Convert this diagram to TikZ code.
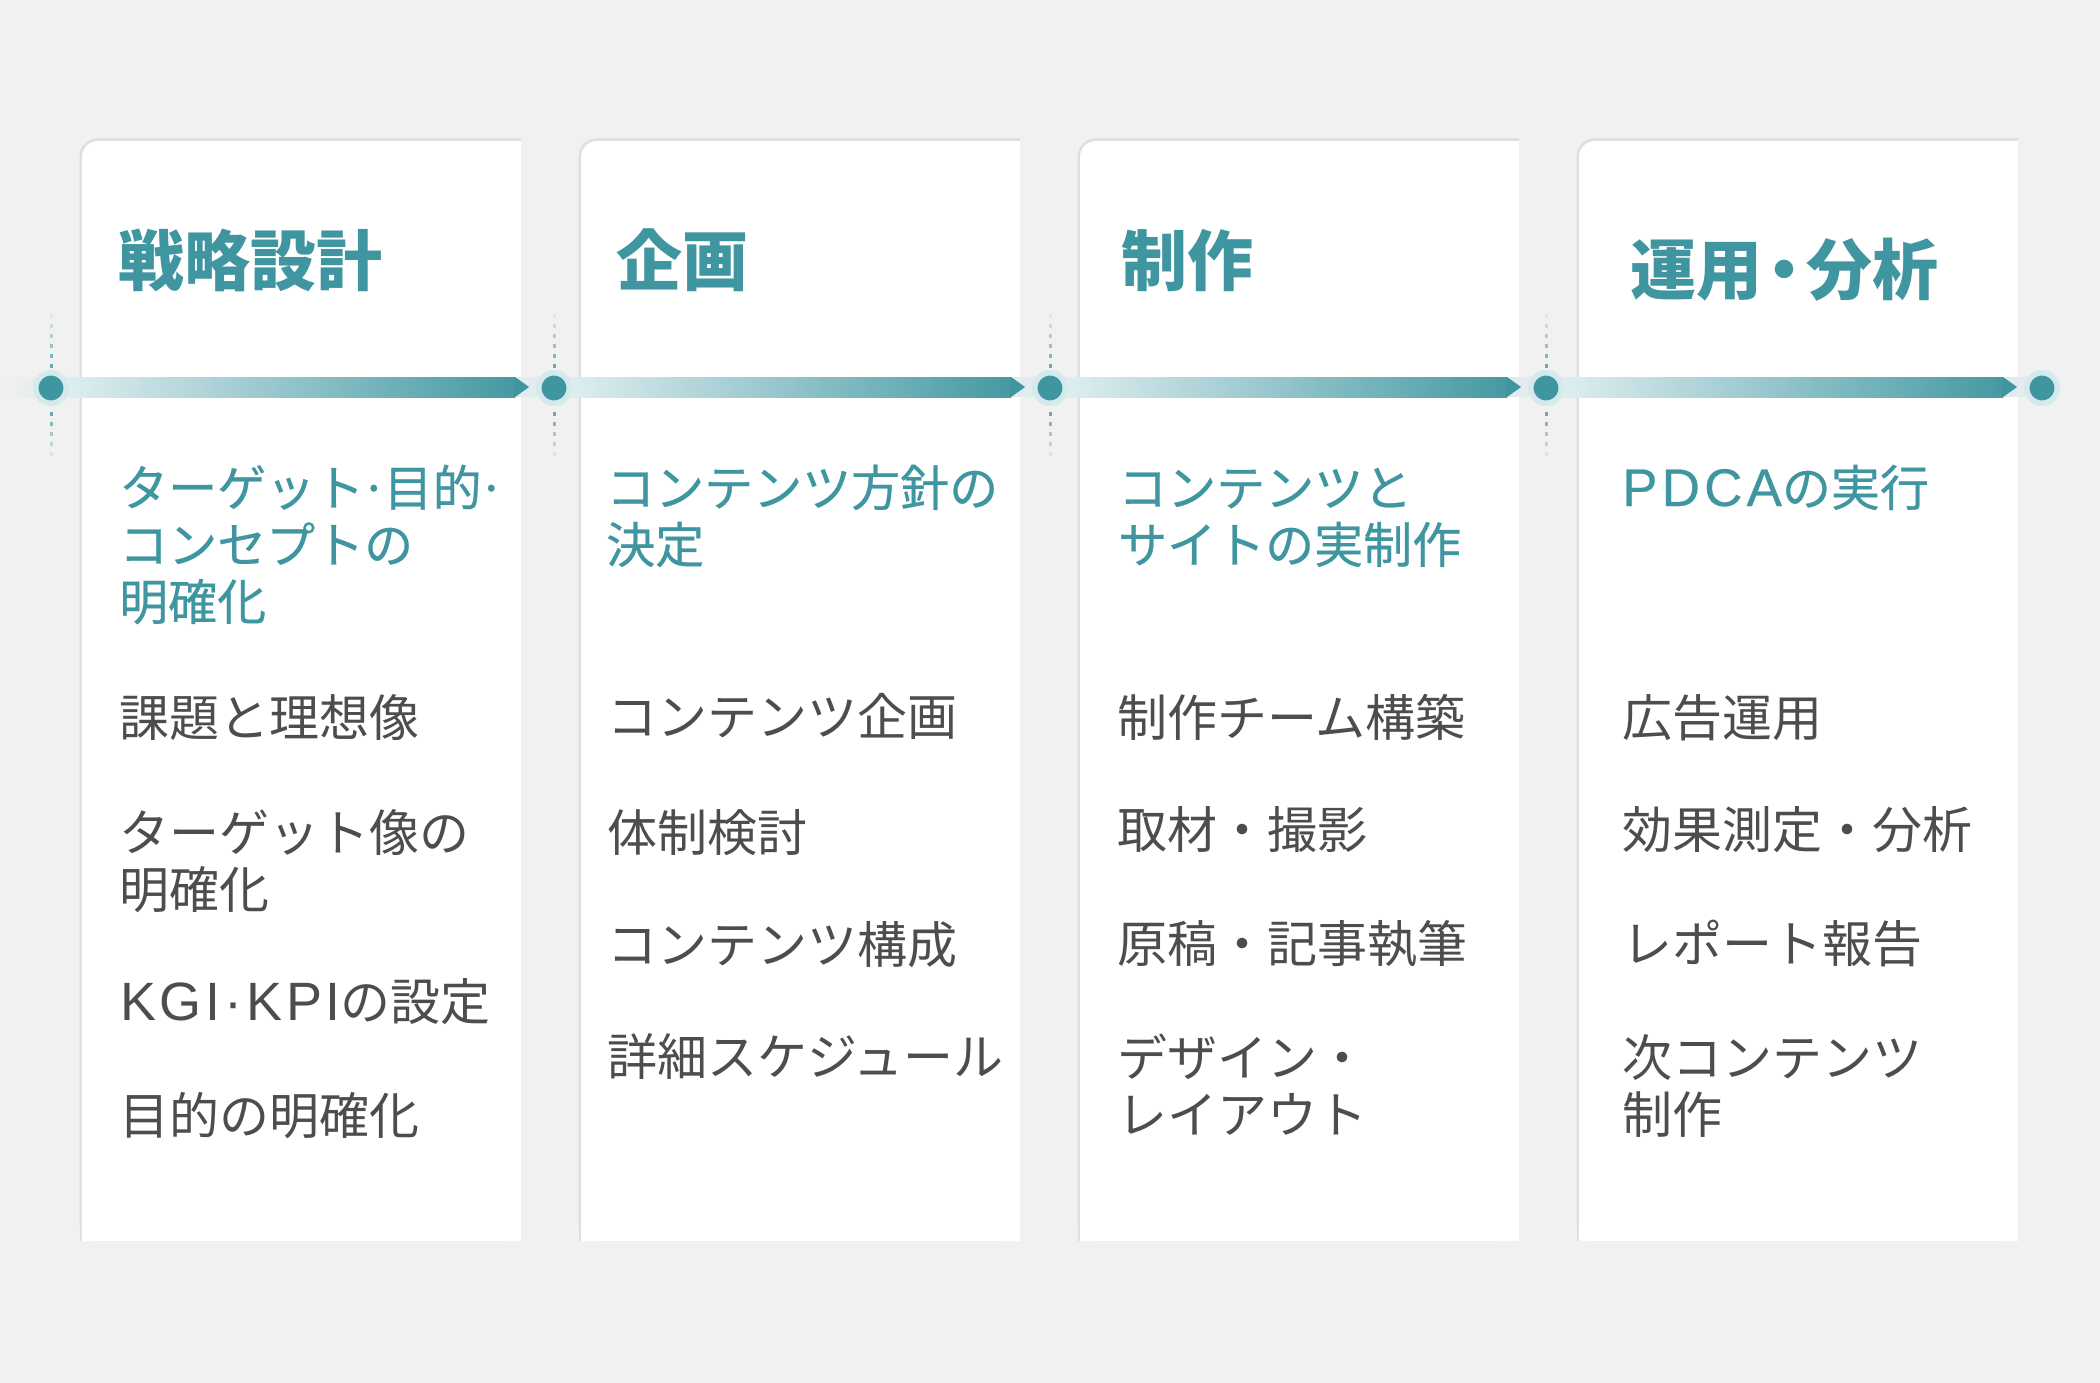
\documentclass[tikz,border=0pt]{standalone}
\usepackage{fontspec}
\setmainfont{Noto Sans CJK JP}
\newfontfamily\subfont[FakeBold=0.5]{Noto Sans CJK JP}
\newfontfamily\lat[Scale=1.08,LetterSpace=7]{Liberation Sans}
\newfontfamily\latsub[Scale=1.08,LetterSpace=8,FakeBold=0.5]{Liberation Sans}
\definecolor{bgc}{HTML}{F1F1F1}
\definecolor{cardshadow}{HTML}{DEDEE3}
\definecolor{teal}{HTML}{3F95A0}
\definecolor{bodyc}{HTML}{4D4D4D}
\definecolor{halo}{HTML}{D5EAED}
\definecolor{segL}{HTML}{E4F1F3}
\definecolor{segR}{HTML}{4599A3}
\definecolor{faint}{HTML}{E2EBED}
\tikzset{
  title/.style={anchor=base west, inner sep=0pt, text=teal, font=\fontsize{66}{70}\selectfont\bfseries},
  sub/.style={anchor=base west, inner sep=0pt, text=teal, align=left, font=\subfont\fontsize{49}{57}\selectfont},
  item/.style={anchor=base west, inner sep=0pt, text=bodyc, align=left, font=\fontsize{50}{57}\selectfont},
  dot/.style={circle, fill=teal, draw=halo, line width=5.5pt, minimum size=30.5pt, inner sep=0pt},
}
\begin{document}
\begin{tikzpicture}[x=1pt,y=-1pt]
\useasboundingbox (0,0) rectangle (2100,1383);
\fill[bgc] (0,0) rectangle (2100,1383);
% cards
\foreach \L in {82,581,1080,1579}{
  \fill[cardshadow, rounded corners=18pt] (\L-2.5,138.5) rectangle (\L+439,1241);
  \fill[cardshadow] (\L+22,138.5) rectangle (\L+439,1241);
  \fill[cardshadow] (\L-2.5,165) rectangle (\L+439,1241);
  \fill[white, rounded corners=16pt] (\L,141) rectangle (\L+439,1241);
  \fill[white] (\L+20,141) rectangle (\L+439,1241);
  \fill[white] (\L,162) rectangle (\L+439,1241);
}
% faint timeline bar
\shade[left color=bgc, right color=faint] (0,377) rectangle (51,397);
\fill[faint] (51,377) rectangle (2042,397);
% gradient arrow segments
\foreach \D/\T in {51/529,554/1025,1050/1521,1546/2017}{
  \shade[left color=segL, right color=segR] (\D,377) rectangle (\T-14,397);
  \fill[teal] (\T-14,377) -- (\T,387) -- (\T-14,397) -- cycle;
}
% dashed vertical marks
\foreach \D in {51,554,1050,1546}{
  \foreach \yy/\o in {366/0.75,356/0.62,346/0.5,336/0.36,326/0.22,316/0.1,
                      414/0.75,424/0.6,434/0.45,444/0.3,454/0.12}{
    \fill[teal, opacity=\o] (\D-1.5,\yy-2.2) rectangle (\D+1.5,\yy+2.2);
  }
}
% dots
\node[dot] (d1) at (51,388) {};
\node[dot] (d2) at (554,388) {};
\node[dot] (d3) at (1050,388) {};
\node[dot] (d4) at (1546,388) {};
\node[dot] (d5) at (2042,388) {};
% card 1
\node[title] (t1) at (118,285) {戦略設計};
\node[sub] (s1) at (119,620) {ターゲット\kern-4pt·\kern-4pt目的\kern-4pt·\\コンセプトの\\明確化};
\node[item] (a1) at (119,736) {課題と理想像};
\node[item] (a2) at (119,908) {ターゲット像の\\明確化};
\node[item] (a3) at (120,1020) {{\lat KGI·KPI}の設定};
\node[item] (a4) at (119,1134) {目的の明確化};
% card 2
\node[title] (t2) at (616,285) {企画};
\node[sub] (s2) at (606,563) {コンテンツ方針の\\決定};
\node[item] (b1) at (607,735) {コンテンツ企画};
\node[item] (b2) at (607,851) {体制検討};
\node[item] (b3) at (607,963) {コンテンツ構成};
\node[item] (b4) at (607,1075) {詳細スケジュール};
% card 3
\node[title] (t3) at (1121,285) {制作};
\node[sub] (s3) at (1118,563) {コンテンツと\\サイトの実制作};
\node[item] (c1) at (1117,736) {制作チーム構築};
\node[item] (c2) at (1117,848) {取材・撮影};
\node[item] (c3) at (1117,962) {原稿・記事執筆};
\node[item] (c4) at (1117,1133) {デザイン・\\レイアウト};
% card 4
\node[title] (t4) at (1630,294) {運用\kern-11pt・\kern-11pt分析};
\node[sub] (s4) at (1622,506) {{\latsub PDCA}の実行};
\node[item] (e1) at (1622,736) {広告運用};
\node[item] (e2) at (1622,848) {効果測定・分析};
\node[item] (e3) at (1622,962) {レポート報告};
\node[item] (e4) at (1622,1133) {次コンテンツ\\制作};
\end{tikzpicture}
\end{document}
